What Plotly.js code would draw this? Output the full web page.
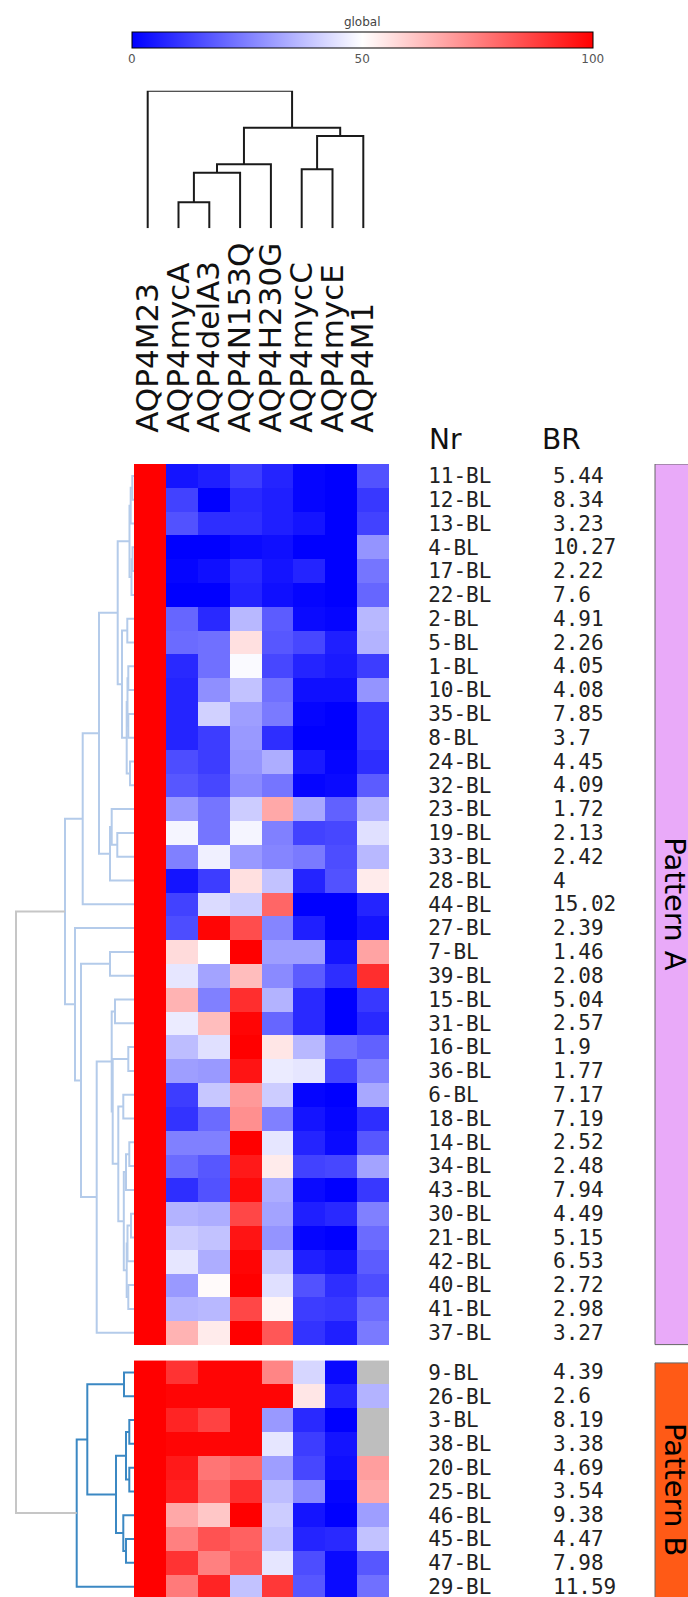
<!DOCTYPE html>
<html>
<head>
<meta charset="utf-8">
<script src="https://cdn.plot.ly/plotly-3.0.1.min.js"></script>
<style>html,body{margin:0;padding:0;overflow:hidden;background:#fff}</style>
</head>
<body>
<div id="chart" style="width:688px;height:1597px"></div>
<script>
// ---------------- DATA ----------------
const columnNames = ['AQP4M23','AQP4mycA','AQP4delA3','AQP4N153Q','AQP4H230G','AQP4mycC','AQP4mycE','AQP4M1'];

const patternANr = ['11-BL','12-BL','13-BL','4-BL','17-BL','22-BL','2-BL','5-BL','1-BL','10-BL','35-BL','8-BL','24-BL','32-BL','23-BL','19-BL','33-BL','28-BL','44-BL','27-BL','7-BL','39-BL','15-BL','31-BL','16-BL','36-BL','6-BL','18-BL','14-BL','34-BL','43-BL','30-BL','21-BL','42-BL','40-BL','41-BL','37-BL'];
const patternABR = [5.44,8.34,3.23,10.27,2.22,7.6,4.91,2.26,4.05,4.08,7.85,3.7,4.45,4.09,1.72,2.13,2.42,4,15.02,2.39,1.46,2.08,5.04,2.57,1.9,1.77,7.17,7.19,2.52,2.48,7.94,4.49,5.15,6.53,2.72,2.98,3.27];
const patternAValues = [
  [100,4,6,12,7,1,0,16],
  [100,13,0,8,6,1,0,11],
  [100,16,9,9,6,4,0,13],
  [100,0,0,2,3,0,0,29],
  [100,1,3,8,4,7,0,23],
  [100,0,0,7,3,1,0,20],
  [100,20,8,36,18,2,1,36],
  [100,21,22,56,17,14,6,35],
  [100,8,22,49,14,7,5,12],
  [100,7,28,38,22,3,3,29],
  [100,7,41,31,24,1,0,11],
  [100,7,12,30,9,0,0,11],
  [100,15,12,29,34,5,1,9],
  [100,17,14,27,23,1,2,18],
  [100,30,23,40,67,33,19,35],
  [100,48,23,48,25,13,14,44],
  [100,25,47,30,26,24,15,36],
  [100,4,12,56,38,7,16,54],
  [100,13,43,40,80,0,0,7],
  [100,15,99,85,26,6,0,4],
  [100,57,50,100,31,31,4,68],
  [100,45,32,63,27,18,9,91],
  [100,65,25,91,35,8,0,11],
  [100,46,63,99,20,8,0,8],
  [100,37,44,100,55,36,22,19],
  [100,31,30,96,46,45,14,25],
  [100,12,39,70,40,1,0,33],
  [100,10,21,72,25,4,1,9],
  [100,25,25,100,45,7,2,17],
  [100,21,17,95,54,13,14,32],
  [100,9,16,98,34,2,0,11],
  [100,35,34,86,32,6,8,25],
  [100,40,38,96,29,1,0,21],
  [100,45,34,99,39,6,4,18],
  [100,30,51,100,44,16,9,15],
  [100,35,36,86,52,12,11,21],
  [100,65,54,100,83,10,6,24]
];

const patternBNr = ['9-BL','26-BL','3-BL','38-BL','20-BL','25-BL','46-BL','45-BL','47-BL','29-BL'];
const patternBBR = [4.39,2.6,8.19,3.38,4.69,3.54,9.38,4.47,7.98,11.59];
const patternBValues = [
  [100,90,99,99,74,42,2,null],
  [100,99,99,99,99,55,7,35],
  [100,93,87,99,30,8,0,null],
  [100,99,99,99,45,12,4,null],
  [100,95,77,80,31,14,3,69],
  [100,94,80,91,37,27,1,67],
  [100,67,61,100,40,4,0,31],
  [100,75,84,81,38,7,8,38],
  [100,90,75,83,45,15,2,17],
  [100,76,93,38,89,17,2,22]
];

// dendrograms: node = [left, right, mergeHeight]; numbers are leaf indices
const columnTree = [0, [[[[1,2,26],3,55.6],4,64],[[5,6,59],7,92.3],100.6], 137.6];
const patternATree = [
  [
    [
      [
        [[[0,1,1.7],2,3.3],[[3,4,1.5],5,2.5],4.5],
        [[6,7,6.7],[[[8,9,5.7],[10,11,5.7],6.5],[12,13,4],7.3],12],
        16.3
      ],
      [[14,[15,16,16.7],22.3],17,24],
      35
    ],
    18, 51.3
  ],
  [
    19,
    [
      [20,21,24],
      [
        [[22,23,19],[[24,25,5.7],[[26,27,10.7],[[[28,29,4.7],30,8],[[[31,32,3],33,6.5],[34,35,5.7],7.3],10.2],15.7],21.3],22.3],
        36, 37.3
      ],
      53
    ],
    59
  ],
  69
];
const patternBTree = [[[0,1,10],[[[2,3,4.7],[4,5,4.7],8],[6,[7,8,8],10.7],18],46.7],9,57.3];
const rootHeight = 118;
const colorbarTicks = [0,50,100];

// ---------------- LAYOUT CONSTANTS ----------------
const W = 688, H = 1597;
const heatL = 134, heatR = 389, heatT = 464, rowPx = 23.8, groupGap = 0.67;
const nA = patternANr.length, nB = patternBNr.length;
const colIdx = columnNames.map((_, i) => i);
const posA = patternANr.map((_, i) => i);
const posB = patternBNr.map((_, i) => nA + groupGap + i);
const py = p => 1 - p / H;
const pxx = p => p / W;

function walk(node, leafPos, segs) {
  if (typeof node === 'number') return {p: leafPos(node), h: 0};
  const a = walk(node[0], leafPos, segs), b = walk(node[1], leafPos, segs), h = node[2];
  segs.push([[a.h, a.p], [h, a.p], [h, b.p], [b.h, b.p]]);
  return {p: (a.p + b.p) / 2, h: h};
}
function segsToXY(segs, horizontal) {
  const x = [], y = [];
  segs.forEach(s => {
    s.forEach(pt => {
      if (horizontal) { x.push(pt[0]); y.push(pt[1]); } else { x.push(pt[1]); y.push(pt[0]); }
    });
    x.push(null); y.push(null);
  });
  return {x, y};
}

const segA = [], segB = [], segRoot = [], segCol = [];
const rA = walk(patternATree, i => posA[i], segA);
const rB = walk(patternBTree, i => posB[i], segB);
segRoot.push([[rA.h, rA.p], [rootHeight, rA.p], [rootHeight, rB.p], [rB.h, rB.p]]);
walk(columnTree, i => i, segCol);

const dA = segsToXY(segA, true), dB = segsToXY(segB, true), dR = segsToXY(segRoot, true), dC = segsToXY(segCol, false);

const colorscale = [[0,'rgb(0,0,255)'],[0.5,'rgb(255,255,255)'],[1,'rgb(255,0,0)']];
const missingMask = patternBValues.map(r => r.map(v => v === null ? 1 : null));

const traces = [
  {type:'heatmap', x: colIdx, y: posA, z: patternAValues, colorscale, zmin:0, zmax:100, xaxis:'x', yaxis:'y', hoverinfo:'skip',
   colorbar:{orientation:'h', x: pxx(362.2), xanchor:'center', y: py(18), yanchor:'top', len:461, lenmode:'pixels',
     thickness:16, thicknessmode:'pixels', outlinewidth:1, outlinecolor:'#000', tickvals: colorbarTicks, ticks:'',
     tickfont:{family:'DejaVu Sans', size:12, color:'#555'}, xpad:0, ypad:0,
     title:{text:'global', side:'top', font:{family:'DejaVu Sans', size:12, color:'#444'}}}},
  {type:'heatmap', x: colIdx, y: posB, z: missingMask, colorscale:[[0,'#bebebe'],[1,'#bebebe']], showscale:false, xaxis:'x', yaxis:'y', hoverinfo:'skip'},
  {type:'heatmap', x: colIdx, y: posB, z: patternBValues, colorscale, zmin:0, zmax:100, showscale:false, xaxis:'x', yaxis:'y', hoverinfo:'skip'},
  {type:'scatter', mode:'lines', x: dA.x, y: dA.y, xaxis:'x2', yaxis:'y', line:{color:'#b4cbea', width:2}, hoverinfo:'skip'},
  {type:'scatter', mode:'lines', x: dB.x, y: dB.y, xaxis:'x2', yaxis:'y', line:{color:'#3b88c3', width:2}, hoverinfo:'skip'},
  {type:'scatter', mode:'lines', x: dR.x, y: dR.y, xaxis:'x2', yaxis:'y', line:{color:'#c6c6c6', width:2}, hoverinfo:'skip'},
  {type:'scatter', mode:'lines', x: dC.x, y: dC.y, xaxis:'x3', yaxis:'y2', line:{color:'#1a1a1a', width:2}, hoverinfo:'skip'}
];

const annotations = [
  {text:'Nr', xref:'paper', yref:'paper', x: pxx(427), y: py(440), xanchor:'left', yanchor:'middle', showarrow:false, font:{family:'DejaVu Sans', size:28, color:'#111'}},
  {text:'BR', xref:'paper', yref:'paper', x: pxx(540), y: py(440), xanchor:'left', yanchor:'middle', showarrow:false, font:{family:'DejaVu Sans', size:28, color:'#111'}},
  {text:'Pattern A', xref:'paper', yref:'y', x: pxx(675), y: (nA - 1) / 2, xanchor:'center', yanchor:'middle', textangle:90, showarrow:false, font:{family:'DejaVu Sans', size:29, color:'#000'}},
  {text:'Pattern B', xref:'paper', yref:'y', x: pxx(675), y: nA + groupGap + 4.9, xanchor:'center', yanchor:'middle', textangle:90, showarrow:false, font:{family:'DejaVu Sans', size:29, color:'#000'}}
];
patternABR.forEach((v, i) => annotations.push({text:String(v), xref:'paper', yref:'y', x: pxx(551), y: posA[i], xanchor:'left', yanchor:'middle', showarrow:false, font:{family:'DejaVu Sans Mono', size:21, color:'#222'}}));
patternBBR.forEach((v, i) => annotations.push({text:String(v), xref:'paper', yref:'y', x: pxx(551), y: posB[i], xanchor:'left', yanchor:'middle', showarrow:false, font:{family:'DejaVu Sans Mono', size:21, color:'#222'}}));

const shapes = [
  {type:'rect', xref:'paper', yref:'y', x0: pxx(655), x1: 1.05, y0: -0.5, y1: nA - 0.5, fillcolor:'#e9aaf9', line:{color:'#666', width:1}, layer:'below'},
  {type:'rect', xref:'paper', yref:'y', x0: pxx(655), x1: 1.05, y0: nA + groupGap - 0.4, y1: nA + groupGap + nB + 2, fillcolor:'#ff5a16', line:{color:'#666', width:1}, layer:'below'}
];

const hidden = {showgrid:false, zeroline:false, showline:false, showticklabels:false, ticks:'', fixedrange:true};
const layout = {
  width: W, height: H,
  margin:{l:0, r:0, t:0, b:0, pad:0},
  paper_bgcolor:'#fff', plot_bgcolor:'rgba(0,0,0,0)',
  showlegend:false,
  xaxis: Object.assign({}, hidden, {domain:[pxx(heatL), pxx(heatR)], range:[-0.5, 7.5], anchor:'y'}),
  yaxis: {domain:[0, py(heatT)], range:[-0.5 + (H - heatT) / rowPx, -0.5], anchor:'x', side:'right',
    tickvals: posA.concat(posB), ticktext: patternANr.concat(patternBNr),
    ticks:'outside', ticklen:34, tickcolor:'rgba(0,0,0,0)', showgrid:false, zeroline:false, showline:false,
    ticklabeloverflow:'allow',
    tickfont:{family:'DejaVu Sans Mono', size:21, color:'#222'}, fixedrange:true},
  xaxis2: Object.assign({}, hidden, {domain:[0, pxx(heatL)], range:[heatL, 0], anchor:'y'}),
  xaxis3: {domain:[pxx(132.3), pxx(378.7)], range:[-0.5, 7.5], anchor:'y', side:'top',
    tickvals: colIdx, ticktext: columnNames, tickangle:-90,
    ticks:'outside', ticklen:24, tickcolor:'rgba(0,0,0,0)', showgrid:false, zeroline:false, showline:false,
    tickfont:{family:'DejaVu Sans', size:31, color:'#111'}, fixedrange:true},
  yaxis2: Object.assign({}, hidden, {domain:[py(228.3), py(90.7)], range:[0, 137.6], anchor:'x3'}),
  annotations, shapes
};

Plotly.newPlot('chart', traces, layout, {staticPlot:true, displayModeBar:false});
</script>
</body>
</html>
